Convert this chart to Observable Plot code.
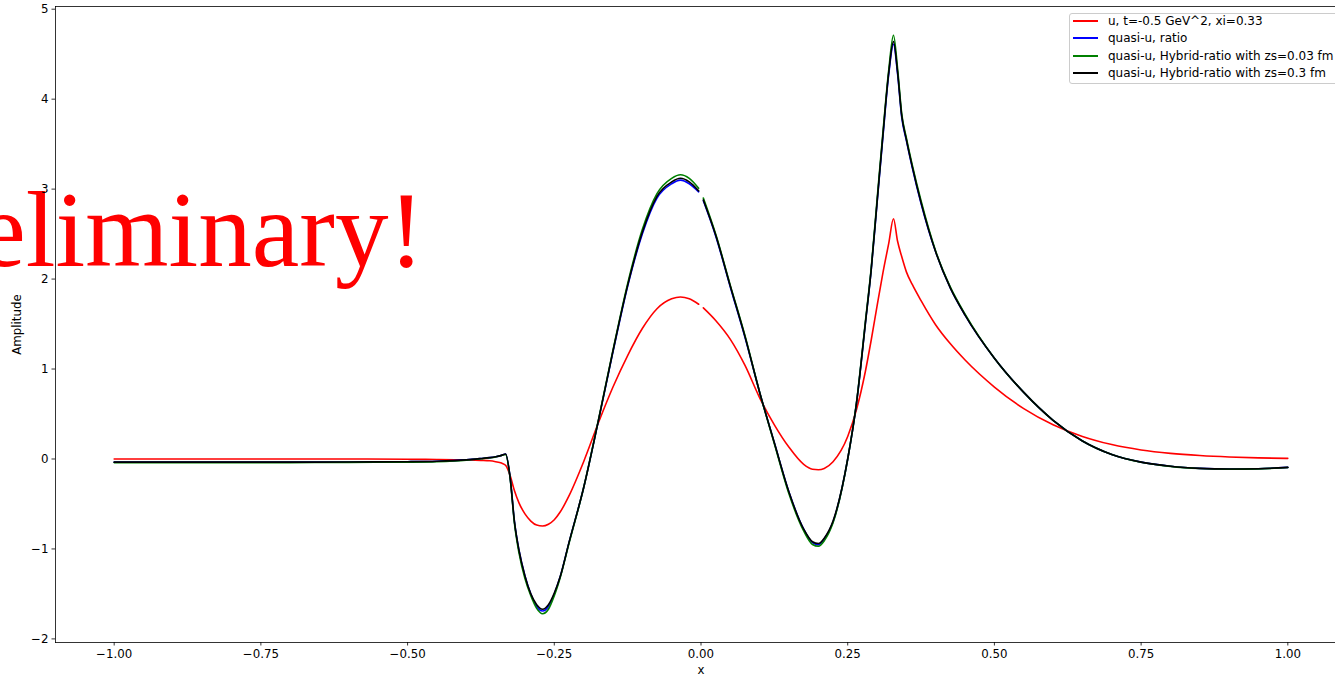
<!DOCTYPE html>
<html>
<head>
<meta charset="utf-8">
<script src="https://cdn.jsdelivr.net/npm/d3@7"></script>
<script src="https://cdn.jsdelivr.net/npm/@observablehq/plot@0.6"></script>
<style>
  html, body { margin: 0; padding: 0; background: #fff; }
  #wrap { position: relative; width: 1335px; height: 676px; overflow: hidden; font-family: "DejaVu Sans", sans-serif; }
  #wrap svg { max-width: none; display: block; }
  #legend { position: absolute; left: 1069px; top: 13px; width: 290px; height: 71px; box-sizing: border-box;
            border: 1px solid #cccccc; border-radius: 3px; background: rgba(255,255,255,0.8); font-size: 12px; color: #000; }
  .row { position: absolute; left: 0; height: 18px; display: flex; align-items: center; white-space: nowrap; }
  .sw { width: 25px; height: 2px; margin-left: 3px; margin-right: 10px; }
</style>
</head>
<body>
<div id="wrap"></div>
<script>
// ---- data ----
const xs = [
  -1.0, -0.9, -0.8, -0.7, -0.6, -0.5, -0.45, -0.4, -0.375, -0.36,
  -0.35, -0.34, -0.333, -0.325, -0.318, -0.31, -0.3, -0.29, -0.28, -0.27,
  -0.26, -0.25, -0.24, -0.225, -0.2, -0.175, -0.15, -0.125, -0.1, -0.075,
  -0.05, -0.035, -0.02, -0.004, 0, 0.004, 0.025, 0.05, 0.075, 0.1,
  0.125, 0.15, 0.175, 0.19, 0.2, 0.21, 0.225, 0.25, 0.265, 0.28,
  0.29, 0.3, 0.31, 0.32, 0.328, 0.335, 0.342, 0.35, 0.36, 0.375,
  0.4, 0.425, 0.45, 0.5, 0.55, 0.6, 0.65, 0.7, 0.75, 0.8,
  0.85, 0.9, 0.95, 1.0
];

// u, t=-0.5 GeV^2, xi=0.33
const uValues = [
  0, 0, 0, 0, 0, -0.003, -0.005, -0.01, -0.015, -0.02,
  -0.03, -0.045, -0.07, -0.19, -0.35, -0.49, -0.61, -0.69, -0.735, -0.745,
  -0.725, -0.675, -0.59, -0.41, -0.03, 0.40, 0.80, 1.15, 1.45, 1.67,
  1.78, 1.80, 1.78, 1.72, null, 1.68, 1.54, 1.33, 1.04, 0.68,
  0.38, 0.13, -0.06, -0.115, -0.12, -0.105, -0.03, 0.25, 0.55, 0.97,
  1.32, 1.70, 2.07, 2.40, 2.67, 2.42, 2.25, 2.08, 1.94, 1.76,
  1.49, 1.28, 1.10, 0.80, 0.56, 0.38, 0.25, 0.16, 0.10, 0.062,
  0.038, 0.022, 0.012, 0.007
];

// quasi-u, ratio
const quasiRatio = [
  -0.035, -0.035, -0.035, -0.035, -0.033, -0.03, -0.025, -0.01, 0.005, 0.015,
  0.025, 0.04, 0.055, -0.22, -0.69, -1.02, -1.30, -1.50, -1.64, -1.69,
  -1.64, -1.50, -1.31, -0.93, -0.32, 0.42, 1.19, 1.92, 2.50, 2.90,
  3.06, 3.10, 3.06, 2.97, null, 2.87, 2.48, 1.91, 1.35, 0.74,
  0.18, -0.37, -0.78, -0.93, -0.955, -0.89, -0.70, 0.0, 0.62, 1.5,
  2.1, 2.84, 3.58, 4.28, 4.61, 4.28, 3.80, 3.54, 3.24, 2.84,
  2.3, 1.9, 1.6, 1.12, 0.74, 0.43, 0.2, 0.05, -0.035, -0.08,
  -0.104, -0.112, -0.108, -0.093
];

// quasi-u, Hybrid-ratio with zs=0.03 fm
const hybrid003 = [
  -0.04, -0.04, -0.04, -0.04, -0.038, -0.035, -0.03, -0.014, 0.002, 0.013,
  0.023, 0.038, 0.05, -0.23, -0.71, -1.05, -1.33, -1.52, -1.66, -1.72,
  -1.67, -1.52, -1.32, -0.94, -0.32, 0.43, 1.21, 1.95, 2.55, 2.95,
  3.12, 3.16, 3.12, 3.01, null, 2.90, 2.50, 1.93, 1.37, 0.74,
  0.17, -0.39, -0.80, -0.95, -0.97, -0.91, -0.71, 0.0, 0.63, 1.52,
  2.12, 2.88, 3.63, 4.33, 4.71, 4.34, 3.84, 3.57, 3.27, 2.87,
  2.31, 1.91, 1.61, 1.12, 0.74, 0.43, 0.2, 0.05, -0.036, -0.082,
  -0.106, -0.114, -0.11, -0.095
];

// quasi-u, Hybrid-ratio with zs=0.3 fm
const hybrid03 = [
  -0.035, -0.035, -0.035, -0.035, -0.033, -0.03, -0.025, -0.01, 0.005, 0.015,
  0.025, 0.04, 0.055, -0.22, -0.69, -1.02, -1.30, -1.50, -1.62, -1.67,
  -1.62, -1.49, -1.31, -0.93, -0.32, 0.42, 1.20, 1.93, 2.52, 2.92,
  3.08, 3.12, 3.08, 2.98, null, 2.88, 2.49, 1.92, 1.36, 0.74,
  0.18, -0.37, -0.78, -0.92, -0.94, -0.88, -0.69, 0.0, 0.62, 1.5,
  2.1, 2.85, 3.6, 4.3, 4.64, 4.3, 3.82, 3.55, 3.25, 2.85,
  2.3, 1.9, 1.6, 1.12, 0.74, 0.43, 0.2, 0.05, -0.035, -0.08,
  -0.104, -0.112, -0.108, -0.093
];

const seriesNames = [
  "u, t=-0.5 GeV^2, xi=0.33",
  "quasi-u, ratio",
  "quasi-u, Hybrid-ratio with zs=0.03 fm",
  "quasi-u, Hybrid-ratio with zs=0.3 fm"
];
const seriesColors = ["red", "blue", "green", "black"];
const seriesValues = [uValues, quasiRatio, hybrid003, hybrid03];

const xTicks = [-1.0, -0.75, -0.5, -0.25, 0.0, 0.25, 0.5, 0.75, 1.0];
const yTicks = [-2, -1, 0, 1, 2, 3, 4, 5];
const xLabel = "x";
const yLabel = "Amplitude";

// annotation (data coordinates of the end of the text)
const watermark = [{x: -0.472, y: 2.148, text: "Preliminary!"}];

// ---- build ----
const rowsOf = vals => xs.map((x, i) => ({x, y: vals[i]}));

const lineMarks = seriesValues.map((vals, k) =>
  Plot.line(rowsOf(vals), {x: "x", y: "y", stroke: seriesColors[k], strokeWidth: 1.6, curve: "monotone-x"})
);

const chart = Plot.plot({
  width: 1346,
  height: 676,
  marginLeft: 55,
  marginRight: 0,
  marginTop: 6,
  marginBottom: 34,
  style: {fontFamily: "'DejaVu Sans', sans-serif", fontSize: "11.8px", background: "white", maxWidth: "none", color: "black"},
  x: {domain: [-1.1, 1.1]},
  y: {domain: [-2.04, 5.03]},
  marks: [
    Plot.text(watermark, {x: "x", y: "y", text: "text", fill: "red", fontSize: 107,
      fontFamily: "'Liberation Serif', 'Times New Roman', serif", textAnchor: "end", lineAnchor: "bottom"}),
    ...lineMarks,
    Plot.axisX({ticks: xTicks, tickFormat: d3.format(".2f"), tickSize: 3.5, tickPadding: 3.5, strokeWidth: 0.8,
      label: xLabel, labelAnchor: "center", labelArrow: "none", labelOffset: 31}),
    Plot.axisY({ticks: yTicks, tickFormat: d3.format("d"), tickSize: 3.5, tickPadding: 3.5, strokeWidth: 0.8,
      label: yLabel, labelAnchor: "center", labelArrow: "none", labelOffset: 43}),
    Plot.frame({anchor: "top", stroke: "black", strokeWidth: 0.8}),
    Plot.frame({anchor: "left", stroke: "black", strokeWidth: 0.8}),
    Plot.frame({anchor: "bottom", stroke: "black", strokeWidth: 0.8})
  ]
});

const wrap = document.getElementById("wrap");
wrap.appendChild(chart);

// legend overlay (inside the axes, upper right, as in the reference)
const legend = document.createElement("div");
legend.id = "legend";
const rowTops = [-2, 15, 33, 50];
seriesNames.forEach((name, k) => {
  const row = document.createElement("div");
  row.className = "row";
  row.style.top = rowTops[k] + "px";
  const sw = document.createElement("span");
  sw.className = "sw";
  sw.style.background = seriesColors[k];
  const t = document.createElement("span");
  t.textContent = name;
  row.appendChild(sw);
  row.appendChild(t);
  legend.appendChild(row);
});
wrap.appendChild(legend);
</script>
</body>
</html>
